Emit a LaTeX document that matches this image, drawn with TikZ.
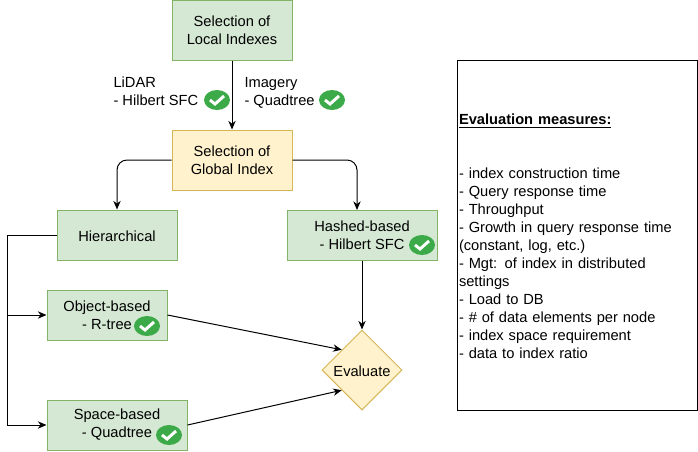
\documentclass[tikz,border=0pt]{standalone}
\usepackage{fontspec}
\setmainfont{Liberation Sans}
\usetikzlibrary{arrows.meta,shapes.geometric}
\definecolor{boxgreen}{HTML}{D5E8D4}
\definecolor{linegreen}{HTML}{82B366}
\definecolor{boxyellow}{HTML}{FFF2CC}
\definecolor{lineyellow}{HTML}{D6B656}
\definecolor{okgreen}{HTML}{3DAA4A}
\tikzset{
  lowertext/.style={execute at begin node={\rule{0pt}{10.5pt}}},
  greenbox/.style={draw=linegreen,fill=boxgreen,align=center,inner sep=0pt,minimum height=37.5pt,lowertext},
  yellowbox/.style={draw=lineyellow,fill=boxyellow,align=center,inner sep=0pt,lowertext},
  note/.style={align=left,inner sep=0pt,anchor=base west},
  link/.style={draw=black,line width=0.75pt,-{Stealth[length=6.5pt,width=5.5pt]}},
  okmark/.pic={
    \fill [okgreen] (0,0) ellipse [x radius=13,y radius=10];
    \draw [white,line width=2.2pt] (-7,0) -- (-2,4) -- (7,-4);
  }
}
\begin{document}
\begin{tikzpicture}[x=0.75pt,y=-0.75pt,line width=0.75pt,font=\fontsize{11}{13.5}\selectfont]
\useasboundingbox (0,0) rectangle (698,451);
\node [greenbox,minimum width=90pt,minimum height=45pt] (local) at (232,30) {Selection of\\Local Indexes};
\node [yellowbox,minimum width=90pt,minimum height=45pt] (global) at (232,160) {Selection of\\Global Index};
\node [greenbox,minimum width=90pt] (hier) at (117,235) {Hierarchical};
\node [greenbox,minimum width=112.5pt] (hashed) at (362,235) {Hashed-based\\- Hilbert SFC};
\node [greenbox,minimum width=90pt] (object) at (107,315) {Object-based\\- R-tree};
\node [greenbox,minimum width=105pt] (space) at (117,425) {Space-based\\- Quadtree};
\node [yellowbox,diamond,minimum width=60pt,minimum height=60pt] (eval) at (362,370) {Evaluate};
\node [note] (lidar) at (113,105) {LiDAR\\- Hilbert SFC};
\node [note] (imagery) at (244,105) {Imagery\\- Quadtree};
\node [draw=black,text width=177pt,inner xsep=1.5pt,inner ysep=0pt,minimum height=262.5pt,align=left,lowertext] (measures) at (577,235) {\textbf{\underline{Evaluation measures:}}\\
\mbox{}\\
\mbox{}\\
- index construction time\\
- Query response time\\
- Throughput\\
- Growth in query response time\\
(constant, log, etc.)\\
- Mgt: of index in distributed\\
settings\\
- Load to DB\\
- \# of data elements per node\\
- index space requirement\\
- data to index ratio};
\coordinate (hiertrunk) at (7,235);
\coordinate (hashedin) at (357,210);
\pic at (217,100) {okmark};
\pic at (332,100) {okmark};
\pic at (422,245) {okmark};
\pic at (147,326) {okmark};
\pic at (169,435) {okmark};
\draw [link] (local) -- (global);
\draw [link,rounded corners=7.5pt] (global.west) -| (hier.north);
\draw [link,rounded corners=7.5pt] (global.east) -| (hashedin);
\draw [link] (hashed) -- (eval);
\draw [link] (hier.west) -- (hiertrunk) |- (space.west);
\draw [link] (hiertrunk |- object.west) -- (object.west);
\draw [link] (object.east) -- (eval.north west);
\draw [link] (space.east) -- (eval.south west);
\end{tikzpicture}
\end{document}
